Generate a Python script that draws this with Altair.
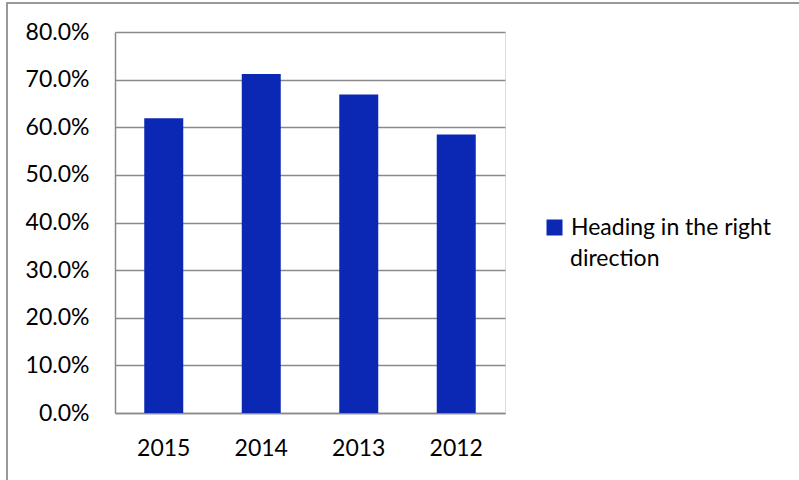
import altair as alt
import pandas as pd

years = ["2015", "2014", "2013", "2012"]
values = [0.619, 0.712, 0.669, 0.585]
series = "Heading in the right direction"
legend_lines = ["Heading in the right", "direction"]

df = pd.DataFrame({"year": years, "value": values, "series": [series] * len(years)})
df_line2 = pd.DataFrame({"txt": [legend_lines[1]]})

FONT = "Lato"
FS = 23
BAR = "#0B28B5"
GRID = "#8A8A8A"

bars = alt.Chart(df).mark_bar(color=BAR).encode(
    x=alt.X("year:N", sort=years, title=None,
            scale=alt.Scale(paddingInner=0.6, paddingOuter=0.3),
            axis=alt.Axis(labelAngle=0, ticks=False, domainColor=GRID, domainWidth=1.5,
                          labelPadding=24, labelFontSize=FS, labelFont=FONT, labelColor="#000")),
    y=alt.Y("value:Q", title=None,
            scale=alt.Scale(domain=[0, 0.8], nice=False),
            axis=alt.Axis(format=".1%", values=[0, 0.1, 0.2, 0.3, 0.4, 0.5, 0.6, 0.7, 0.8],
                          ticks=False, domainColor=GRID, domainWidth=1.5,
                          gridColor=GRID, gridWidth=1.5, labelPadding=26,
                          labelFontSize=FS, labelFont=FONT, labelColor="#000")),
    color=alt.Color("series:N", scale=alt.Scale(range=[BAR]),
                    legend=alt.Legend(title=None, orient="none", legendX=428, legendY=184,
                                      symbolType="square", symbolSize=256, symbolStrokeWidth=0,
                                      labelFont=FONT, labelFontSize=FS, labelColor="#000",
                                      labelOffset=5, labelLimit=400,
                                      labelExpr="'" + legend_lines[0] + "'")),
)

line2 = alt.Chart(df_line2).mark_text(
    font=FONT, fontSize=FS, color="#000", align="left", baseline="alphabetic"
).encode(text="txt:N", x=alt.value(455), y=alt.value(234))

border_top = alt.Chart(df).mark_rule(color="#999", strokeWidth=2).encode(
    x=alt.value(-109), x2=alt.value(684), y=alt.value(-29))
border_left = alt.Chart(df).mark_rule(color="#999", strokeWidth=2).encode(
    x=alt.value(-108), y=alt.value(-30), y2=alt.value(448))

chart = alt.layer(bars, line2, border_top, border_left).properties(
    width=390, height=381,
    autosize=alt.AutoSizeParams(type="none"),
    padding={"left": 115, "top": 32, "right": 294, "bottom": 67},
).configure_view(stroke=None).configure(background="white")

chart.save("out.html", embed_options={"renderer": "svg", "actions": False})
